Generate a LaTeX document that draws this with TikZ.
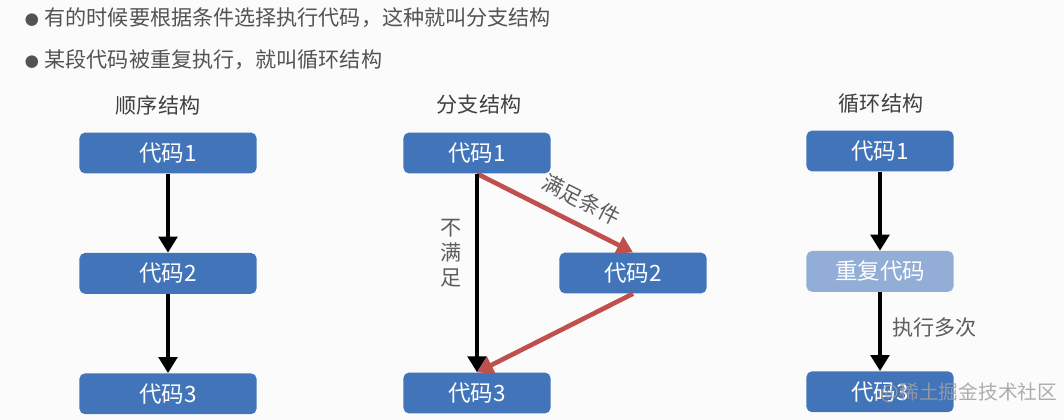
\documentclass[tikz,border=0pt]{standalone}
\usepackage{fontspec}
\setmainfont{Noto Sans CJK SC}
\usepackage{tikz}
\usetikzlibrary{arrows.meta, positioning, calc}
\definecolor{cBox}{RGB}{66,116,186}
\definecolor{cBoxLight}{RGB}{146,173,214}
\definecolor{cRed}{RGB}{192,80,77}
\definecolor{cText}{RGB}{64,64,64}
\definecolor{cBg}{RGB}{251,251,251}
\tikzset{
	codebox/.style ={rectangle, rounded corners=4pt, minimum width=3.68cm, minimum height=1.02cm, align=center, fill=cBox, text=white, font=\fontsize{16}{18}\selectfont},
	flowarrow/.style={-{Triangle[length=4mm, width=4.6mm]}, line width=3.3pt},
	% text styles
	title/.style    ={text=cText, font=\fontsize{15}{18}\selectfont},
	note/.style     ={text=cText!85, font=\fontsize{15}{18}\selectfont, align=center},
	point/.style    ={anchor=west, text=cText!90, font=\fontsize{15}{18}\selectfont},
}
\newcommand{\dotmark}{{\fontsize{10}{12}\selectfont ●}\hspace{4pt}}

\begin{document}
\begin{tikzpicture}[x=0.025cm, y=-0.025cm, node distance=1.975cm]
	\fill[cBg] (0,0) rectangle (1064,420);
	\useasboundingbox (0,0) rectangle (1064,420);
	\node[point] (p1) at (20,18) {\dotmark 有的时候要根据条件选择执行代码，这种就叫分支结构};
	\node[point] (p2) at (20,60) {\dotmark 某段代码被重复执行，就叫循环结构};
	% sequence
	\node[title] (t1) at (158,105) {顺序结构};
	\node[codebox, minimum width=4.43cm] (s1) at (168,153) {代码1};
	\node[codebox, minimum width=4.43cm, below=of s1] (s2) {代码2};
	\node[codebox, minimum width=4.43cm, below=of s2] (s3) {代码3};
	\draw[flowarrow] (s1) -- (s2);
	\draw[flowarrow] (s2) -- (s3);
	% branch
	\node[title] (t2) at (479,105) {分支结构};
	\node[codebox] (b1) at (477,153) {代码1};
	\node[codebox] (b2) at (633,273) {代码2};
	\node[codebox] (b3) at (477,393) {代码3};
	\draw[flowarrow, cRed] (b1.south) -- node[note, sloped, above=5pt, pos=0.6] (yes) {满足条件} (b2.north);
	\draw[flowarrow, cRed] (b2.south) -- (b3.north);
	\draw[flowarrow] (b1) -- node[note, left=6pt, pos=0.4] (no) {不\\满\\足} (b3);
	% loop
	\node[title] (t3) at (881,104) {循环结构};
	\node[codebox] (l1) at (880,151) {代码1};
	\node[codebox, fill=cBoxLight, below=of l1] (l2) {重复代码};
	\node[codebox, below=of l2] (l3) {代码3};
	\draw[flowarrow] (l1) -- (l2);
	\draw[flowarrow] (l2) -- node[note, right=4pt, pos=0.45] (times) {执行多次} (l3);
	\node[text=gray!75, opacity=0.85, font=\fontsize{14}{16}\selectfont] (wm) at (969,393) {@稀土掘金技术社区};
\end{tikzpicture}
\end{document}
